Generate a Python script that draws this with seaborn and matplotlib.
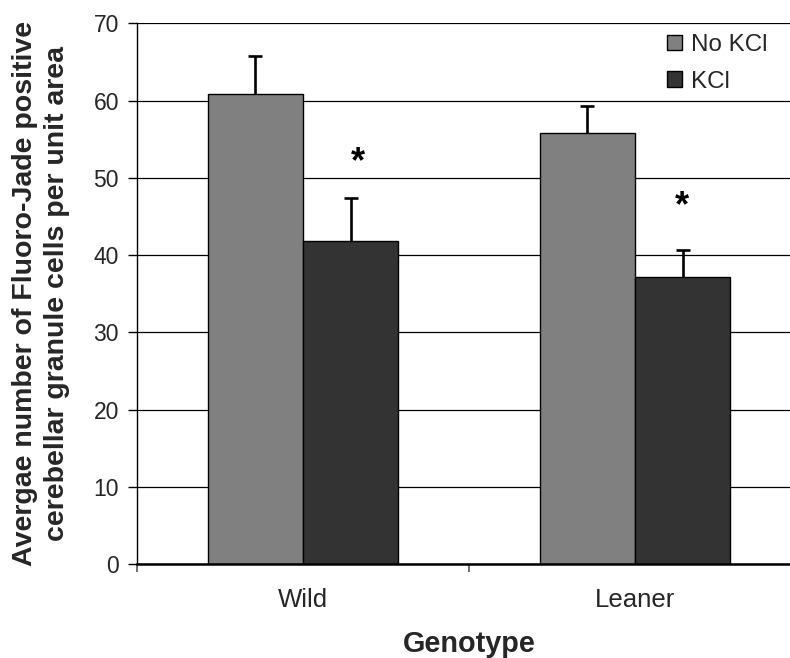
import matplotlib
matplotlib.use("Agg")
import matplotlib.pyplot as plt
import seaborn as sns
import pandas as pd
import numpy as np

# ---- data ----
genotypes = ["Wild", "Leaner"]
treatments = ["No KCl", "KCl"]
no_kcl_mean = [60.85, 55.8]
kcl_mean = [41.8, 37.1]
no_kcl_err = [4.95, 3.5]
kcl_err = [5.6, 3.6]
star_y = [52.0, 46.2]
star_dx = [0.165, 0.142]
yticks = [0, 10, 20, 30, 40, 50, 60, 70]

df = pd.DataFrame({
    "Genotype": genotypes * 2,
    "Treatment": [treatments[0]] * 2 + [treatments[1]] * 2,
    "Value": no_kcl_mean + kcl_mean,
    "Err": no_kcl_err + kcl_err,
})

sns.set_theme(style="white")
plt.rcParams["font.family"] = ["Liberation Sans", "DejaVu Sans"]

fig = plt.figure(figsize=(7.9, 6.58), dpi=100)
ax = fig.add_axes([137 / 790, 94 / 658, 664 / 790, 540.7 / 658])

sns.barplot(data=df, x="Genotype", y="Value", hue="Treatment",
            order=genotypes, hue_order=treatments,
            palette=["#808080", "#333333"], width=0.574, gap=0,
            edgecolor="black", linewidth=1.0, errorbar=None, ax=ax,
            legend=True)

# error bars (upper only), placed at bar centers
for cont, t in zip(list(ax.containers), treatments):
    sub = df[df["Treatment"] == t].set_index("Genotype").loc[genotypes]
    xs = [p.get_x() + p.get_width() / 2 for p in cont.patches]
    eb = ax.errorbar(xs, sub["Value"].values,
                     yerr=[np.zeros(len(xs)), sub["Err"].values],
                     fmt="none", ecolor="black", elinewidth=1.9, capsize=5,
                     capthick=1.9, zorder=3)
    caps = eb.lines[1]
    if len(caps) == 2:
        caps[0].remove()

# asterisks
for i in range(len(genotypes)):
    ax.text(i + star_dx[i], star_y[i], "*", ha="center", va="center",
            fontsize=26, fontweight="bold", color="black")

ax.set_ylim(0, 70)
ax.set_xlim(-0.5, 1.5)
ax.set_yticks(yticks)
ax.yaxis.grid(True, color="black", linewidth=0.9)
ax.set_axisbelow(True)

for s in ["top", "right"]:
    ax.spines[s].set_visible(False)
ax.spines["left"].set_color("black")
ax.spines["bottom"].set_color("black")
ax.spines["left"].set_linewidth(1.0)
ax.spines["bottom"].set_linewidth(1.8)

ax.tick_params(axis="y", which="major", direction="out", length=6.5, width=1,
               color="black", left=True, pad=6.5, labelsize=16.5)
ax.tick_params(axis="x", which="major", length=0, pad=17, labelsize=18.5)
ax.set_xticks([-0.5, 0.5, 1.5], minor=True)
ax.tick_params(axis="x", which="minor", direction="out", length=5.5, width=1.2,
               color="#555555", bottom=True)

ax.set_ylabel("Avergae number of Fluoro-Jade positive\ncerebellar granule cells per unit area",
              fontsize=20.5, fontweight="bold", linespacing=1.3)
ax.yaxis.set_label_coords(-0.101, 0.5)
ax.set_xlabel("Genotype", fontsize=20.8, fontweight="bold")
ax.xaxis.set_label_coords(0.5, -0.122)

leg = ax.legend(loc="upper left", bbox_to_anchor=(655 / 790, 1 - 22 / 658),
                bbox_transform=fig.transFigure, frameon=False, fontsize=17.4,
                handlelength=0.62, handleheight=0.62, handletextpad=0.35,
                labelspacing=0.6, borderpad=0, title=None)

fig.savefig("out.png", dpi=100)
